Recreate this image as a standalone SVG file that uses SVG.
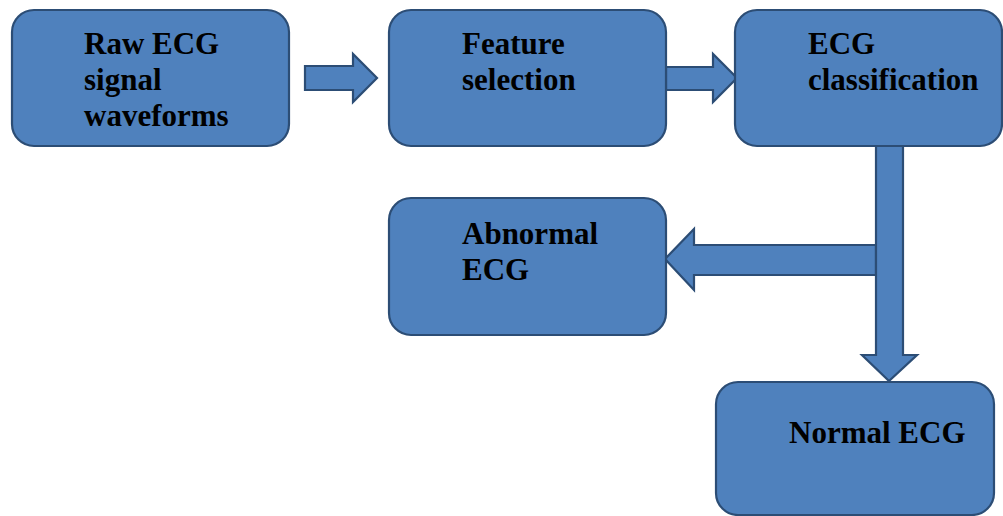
<svg xmlns="http://www.w3.org/2000/svg" width="1003" height="516" viewBox="0 0 1003 516">
<style>
.box{fill:#4F81BD;stroke:#2C4D75;stroke-width:2.2}
.arr{fill:#4F81BD;stroke:#2C4D75;stroke-width:2.2;stroke-linejoin:miter}
.t{font-family:"Liberation Serif","Times New Roman",serif;font-weight:bold;font-size:31px;fill:#000}
</style>
<rect width="1003" height="516" fill="#fff"/>
<g id="connectors">
<path class="arr" d="M305,66 H353 V54 L377,78 L353,102 V90 H305 Z"/>
<path class="arr" d="M666,67 H713 V54 L737,78 L713,102 V90 H666 Z"/>
<path class="arr" d="M876,245 H694 V229 L665,259 L694,290 V275 H876 Z"/>
<path class="arr" d="M876,146 H903 V355 H917 L889,381 L862,355 H876 Z"/>
</g>
<g id="raw">
<rect class="box" x="12" y="10" width="277" height="136" rx="22"/>
<text class="t" x="84" y="54">Raw ECG</text>
<text class="t" x="84" y="90">signal</text>
<text class="t" x="84" y="126">waveforms</text>
</g>
<g id="feature">
<rect class="box" x="389" y="10" width="277" height="136" rx="22"/>
<text class="t" x="462" y="54">Feature</text>
<text class="t" x="462" y="90">selection</text>
</g>
<g id="classification">
<rect class="box" x="735" y="10" width="267" height="136" rx="22"/>
<text class="t" x="808" y="54">ECG</text>
<text class="t" x="808" y="90">classification</text>
</g>
<g id="abnormal">
<rect class="box" x="389" y="198" width="277" height="137" rx="22"/>
<text class="t" x="462" y="244">Abnormal</text>
<text class="t" x="462" y="280">ECG</text>
</g>
<g id="normal">
<rect class="box" x="716" y="382" width="278" height="133" rx="22"/>
<text class="t" x="789" y="443">Normal ECG</text>
</g>
</svg>
